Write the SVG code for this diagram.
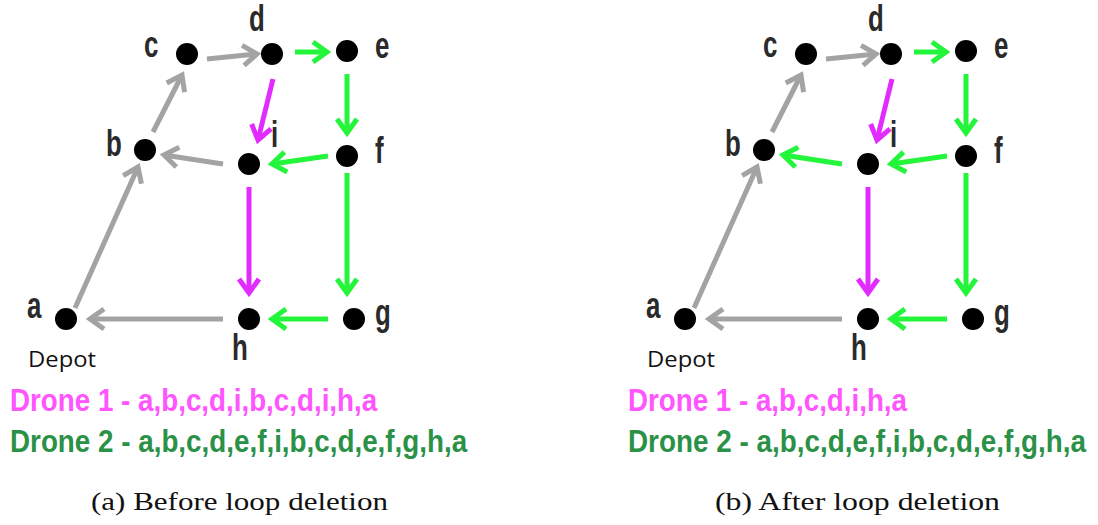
<svg xmlns="http://www.w3.org/2000/svg" width="1098" height="525" viewBox="0 0 1098 525">
<style>
.dot{fill:#000}
.lbl{font-family:"Liberation Sans",Arial,sans-serif;font-weight:bold;font-size:36px;fill:#2a2a2a}
.depot{font-family:"Open Sans","Noto Sans",sans-serif;font-size:22px;fill:#111}
.e{fill:none;stroke-width:5}
.gray{stroke:#a3a3a3;marker-end:url(#mg)}
.green{stroke:#22f53a;marker-end:url(#mgr)}
.mag{stroke:#e22cff;marker-end:url(#mm)}
.d1{font-family:"Liberation Sans",Arial,sans-serif;font-weight:bold;font-size:31px;fill:#ff55ff}
.d2{font-family:"Liberation Sans",Arial,sans-serif;font-weight:bold;font-size:31px;fill:#2a9147}
.cap{font-family:"Liberation Serif","Times New Roman",serif;font-size:26px;fill:#111}
</style>
<defs>
<marker id="mg" markerUnits="userSpaceOnUse" viewBox="-20 -15 30 30" refX="0" refY="0" markerWidth="30" markerHeight="30" orient="auto" overflow="visible"><path d="M-14,-10 L0,0 L-14,10" fill="none" stroke="#a3a3a3" stroke-width="5" stroke-miterlimit="10"/></marker>
<marker id="mgr" markerUnits="userSpaceOnUse" viewBox="-20 -15 30 30" refX="0" refY="0" markerWidth="30" markerHeight="30" orient="auto" overflow="visible"><path d="M-14,-10 L0,0 L-14,10" fill="none" stroke="#22f53a" stroke-width="5" stroke-miterlimit="10"/></marker>
<marker id="mm" markerUnits="userSpaceOnUse" viewBox="-20 -15 30 30" refX="0" refY="0" markerWidth="30" markerHeight="30" orient="auto" overflow="visible"><path d="M-14,-10 L0,0 L-14,10" fill="none" stroke="#e22cff" stroke-width="5" stroke-miterlimit="10"/></marker>
</defs>

<g id="panel-a">
<g id="edges-a">
<line class="e gray" x1="75" y1="308" x2="138" y2="167"/>
<line class="e gray" x1="153" y1="132" x2="182" y2="75"/>
<line class="e gray" x1="207" y1="59" x2="257" y2="54"/>
<line class="e gray" x1="223" y1="164" x2="164" y2="155"/>
<line class="e gray" x1="223" y1="319" x2="90" y2="319"/>
<line class="e green" x1="295" y1="52" x2="327" y2="52"/>
<line class="e green" x1="347" y1="74" x2="347" y2="133"/>
<line class="e green" x1="328" y1="156" x2="272" y2="164"/>
<line class="e green" x1="347" y1="173" x2="347" y2="293"/>
<line class="e green" x1="328" y1="319" x2="272" y2="319"/>
<line class="e mag" x1="273" y1="79" x2="258" y2="140"/>
<line class="e mag" x1="249" y1="187" x2="249" y2="293"/>
</g>
<g id="a-node-a"><circle class="dot" cx="66" cy="319" r="11"/><text class="lbl" x="27" y="318" textLength="14.4" lengthAdjust="spacingAndGlyphs">a</text><text class="depot" x="28" y="367" textLength="68" lengthAdjust="spacingAndGlyphs">Depot</text></g>
<g id="a-node-b"><circle class="dot" cx="145" cy="150" r="11"/><text class="lbl" x="106" y="156" textLength="15.8" lengthAdjust="spacingAndGlyphs">b</text></g>
<g id="a-node-c"><circle class="dot" cx="187" cy="54" r="11"/><text class="lbl" x="144" y="57" textLength="14.4" lengthAdjust="spacingAndGlyphs">c</text></g>
<g id="a-node-d"><circle class="dot" cx="272" cy="54" r="11"/><text class="lbl" x="249" y="31" textLength="15.8" lengthAdjust="spacingAndGlyphs">d</text></g>
<g id="a-node-e"><circle class="dot" cx="347" cy="51" r="11"/><text class="lbl" x="375" y="58" textLength="14.4" lengthAdjust="spacingAndGlyphs">e</text></g>
<g id="a-node-f"><circle class="dot" cx="347" cy="156" r="11"/><text class="lbl" x="375" y="163" textLength="8.6" lengthAdjust="spacingAndGlyphs">f</text></g>
<g id="a-node-g"><circle class="dot" cx="354" cy="319" r="11"/><text class="lbl" x="375" y="325" textLength="15.8" lengthAdjust="spacingAndGlyphs">g</text></g>
<g id="a-node-h"><circle class="dot" cx="249" cy="319" r="11"/><text class="lbl" x="232" y="360" textLength="15.8" lengthAdjust="spacingAndGlyphs">h</text></g>
<g id="a-node-i"><circle class="dot" cx="249" cy="164" r="11"/><text class="lbl" x="271" y="147" textLength="7.2" lengthAdjust="spacingAndGlyphs">i</text></g>
<text class="d1" transform="translate(10,411) scale(0.9,1)" textLength="408" lengthAdjust="spacingAndGlyphs">Drone 1 - a,b,c,d,i,b,c,d,i,h,a</text>
<text class="d2" transform="translate(10,452) scale(0.9,1)" textLength="508" lengthAdjust="spacingAndGlyphs">Drone 2 - a,b,c,d,e,f,i,b,c,d,e,f,g,h,a</text>
<text class="cap" x="91" y="510" textLength="297" lengthAdjust="spacingAndGlyphs">(a) Before loop deletion</text>
</g>

<g id="panel-b" transform="translate(619,0)">
<g id="edges-b">
<line class="e gray" x1="75" y1="308" x2="138" y2="167"/>
<line class="e gray" x1="153" y1="132" x2="182" y2="75"/>
<line class="e gray" x1="207" y1="59" x2="257" y2="54"/>
<line class="e green" x1="223" y1="164" x2="164" y2="155"/>
<line class="e gray" x1="223" y1="319" x2="90" y2="319"/>
<line class="e green" x1="295" y1="52" x2="327" y2="52"/>
<line class="e green" x1="347" y1="74" x2="347" y2="133"/>
<line class="e green" x1="328" y1="156" x2="272" y2="164"/>
<line class="e green" x1="347" y1="173" x2="347" y2="293"/>
<line class="e green" x1="328" y1="319" x2="272" y2="319"/>
<line class="e mag" x1="273" y1="79" x2="258" y2="140"/>
<line class="e mag" x1="249" y1="187" x2="249" y2="293"/>
</g>
<g id="b-node-a"><circle class="dot" cx="66" cy="319" r="11"/><text class="lbl" x="27" y="318" textLength="14.4" lengthAdjust="spacingAndGlyphs">a</text><text class="depot" x="28" y="367" textLength="68" lengthAdjust="spacingAndGlyphs">Depot</text></g>
<g id="b-node-b"><circle class="dot" cx="145" cy="150" r="11"/><text class="lbl" x="106" y="156" textLength="15.8" lengthAdjust="spacingAndGlyphs">b</text></g>
<g id="b-node-c"><circle class="dot" cx="187" cy="54" r="11"/><text class="lbl" x="144" y="57" textLength="14.4" lengthAdjust="spacingAndGlyphs">c</text></g>
<g id="b-node-d"><circle class="dot" cx="272" cy="54" r="11"/><text class="lbl" x="249" y="31" textLength="15.8" lengthAdjust="spacingAndGlyphs">d</text></g>
<g id="b-node-e"><circle class="dot" cx="347" cy="51" r="11"/><text class="lbl" x="375" y="58" textLength="14.4" lengthAdjust="spacingAndGlyphs">e</text></g>
<g id="b-node-f"><circle class="dot" cx="347" cy="156" r="11"/><text class="lbl" x="375" y="163" textLength="8.6" lengthAdjust="spacingAndGlyphs">f</text></g>
<g id="b-node-g"><circle class="dot" cx="354" cy="319" r="11"/><text class="lbl" x="375" y="325" textLength="15.8" lengthAdjust="spacingAndGlyphs">g</text></g>
<g id="b-node-h"><circle class="dot" cx="249" cy="319" r="11"/><text class="lbl" x="232" y="360" textLength="15.8" lengthAdjust="spacingAndGlyphs">h</text></g>
<g id="b-node-i"><circle class="dot" cx="249" cy="164" r="11"/><text class="lbl" x="271" y="147" textLength="7.2" lengthAdjust="spacingAndGlyphs">i</text></g>
<text class="d1" transform="translate(9,411) scale(0.9,1)" textLength="310" lengthAdjust="spacingAndGlyphs">Drone 1 - a,b,c,d,i,h,a</text>
<text class="d2" transform="translate(9,452) scale(0.9,1)" textLength="509" lengthAdjust="spacingAndGlyphs">Drone 2 - a,b,c,d,e,f,i,b,c,d,e,f,g,h,a</text>
<text class="cap" x="96" y="510" textLength="285" lengthAdjust="spacingAndGlyphs">(b) After loop deletion</text>
</g>
</svg>
